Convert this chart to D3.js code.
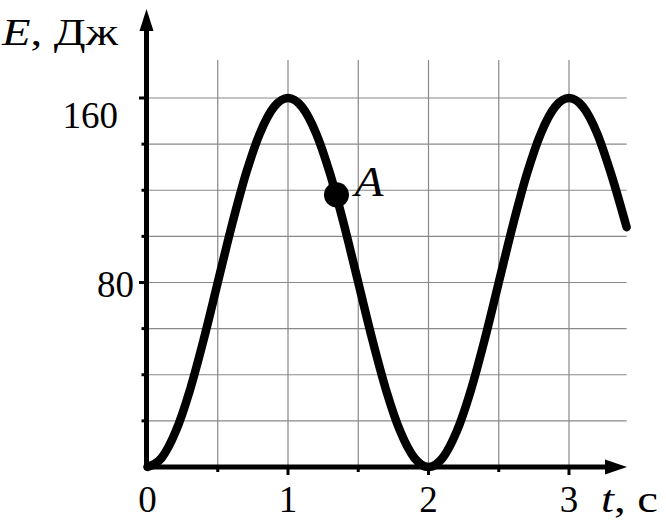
<!DOCTYPE html>
<html><head><meta charset="utf-8">
<script src="https://cdn.jsdelivr.net/npm/d3@7"></script>
<style>body{margin:0;background:#fff}svg{display:block}text{font-family:"Liberation Serif","Times New Roman",serif;fill:#000}</style>
</head><body>
<svg id="c" width="666" height="524"></svg>
<script>
// Data
const tValues = [0,0.1,0.2,0.3,0.4,0.5,0.6,0.7,0.8,0.9,1.0,1.1,1.2,1.3,1.4,1.5,1.6,1.7,1.8,1.9,2.0,2.1,2.2,2.3,2.4,2.5,2.6,2.7,2.8,2.9,3.0,3.1,3.2,3.3,3.41];
const eValues = [0,3.9,15.3,33,55.3,80,104.7,127,144.7,156.1,160,156.1,144.7,127,104.7,80,55.3,33,15.3,3.9,0,3.9,15.3,33,55.3,80,104.7,127,144.7,156.1,160,156.1,144.7,127,104];
const pointA = {t:1.345, e:118, label:"A"};
const xTickLabels = ["0","1","2","3"];
const yTickLabels = ["80","160"];
const xGrid = [0.5,1,1.5,2,2.5,3];
const yGrid = [20,40,60,80,100,120,140,160];

const svg = d3.select("#c");
const x = d3.scaleLinear().domain([0,3]).range([147.5,569]);
const y = d3.scaleLinear().domain([0,160]).range([467,98]);
const xMax = 3.41, gridTop = 60;

// grid
svg.append("g").selectAll("line").data(xGrid).join("line")
  .attr("x1",d=>x(d)).attr("x2",d=>x(d)).attr("y1",gridTop).attr("y2",y(0))
  .attr("stroke","#888").attr("stroke-width",1.2);
svg.append("g").selectAll("line").data(yGrid).join("line")
  .attr("x1",x(0)).attr("x2",x(xMax)).attr("y1",d=>y(d)).attr("y2",d=>y(d))
  .attr("stroke","#888").attr("stroke-width",1.2);

// y ticks
svg.append("g").selectAll("line").data(yGrid).join("line")
  .attr("x1",d=>d%80===0?139:141.5).attr("x2",146).attr("y1",d=>y(d)).attr("y2",d=>y(d))
  .attr("stroke","#000").attr("stroke-width",3);
// x ticks
svg.append("g").selectAll("line").data(xGrid).join("line")
  .attr("x1",d=>x(d)).attr("x2",d=>x(d)).attr("y1",y(0)).attr("y2",d=>d%1===0?475:472)
  .attr("stroke","#000").attr("stroke-width",3);

// axes
svg.append("line").attr("x1",x(0)).attr("x2",612).attr("y1",y(0)).attr("y2",y(0))
  .attr("stroke","#000").attr("stroke-width",5);
svg.append("path").attr("d","M605,459.5 L627,467 L605,474.5 Z").attr("fill","#000");
svg.append("line").attr("x1",146.5).attr("x2",146.5).attr("y1",y(0)+2.5).attr("y2",26)
  .attr("stroke","#000").attr("stroke-width",5);
svg.append("path").attr("d","M139.5,31 L146.5,9 L153.5,31 Z").attr("fill","#000");

// curve
const line = d3.line().x((d,i)=>x(tValues[i])).y(d=>y(d)).curve(d3.curveMonotoneX);
svg.append("path").datum(eValues).attr("d",line)
  .attr("fill","none").attr("stroke","#000").attr("stroke-width",8.5)
  .attr("stroke-linejoin","round").attr("stroke-linecap","round");

// point A
svg.append("circle").attr("cx",x(pointA.t)).attr("cy",y(pointA.e)).attr("r",12.5).attr("fill","#000");
svg.append("text").attr("x",x(pointA.t)+18).attr("y",y(pointA.e)+1)
  .attr("font-size",42).attr("font-style","italic")
  .attr("textLength",29).attr("lengthAdjust","spacingAndGlyphs").text(pointA.label);

// x tick labels
svg.append("g").selectAll("text").data(xTickLabels).join("text")
  .attr("x",d=>x(+d)).attr("y",512).attr("text-anchor","middle").attr("font-size",37).text(d=>d);
// y tick labels
const yLabelPos = {"80":{x:134,y:297},"160":{x:118,y:128}};
svg.append("g").selectAll("text").data(yTickLabels).join("text")
  .attr("x",d=>yLabelPos[d].x).attr("y",d=>yLabelPos[d].y).attr("text-anchor","end").attr("font-size",37).text(d=>d);

// axis titles
const yt = svg.append("text").attr("x",2).attr("y",45).attr("font-size",38)
  .attr("textLength",116).attr("lengthAdjust","spacingAndGlyphs");
yt.append("tspan").attr("font-style","italic").text("E");
yt.append("tspan").text(", Дж");
const xt = svg.append("text").attr("x",601).attr("y",512).attr("font-size",38)
  .attr("textLength",57).attr("lengthAdjust","spacingAndGlyphs");
xt.append("tspan").attr("font-style","italic").text("t");
xt.append("tspan").text(", с");
</script>
</body></html>
